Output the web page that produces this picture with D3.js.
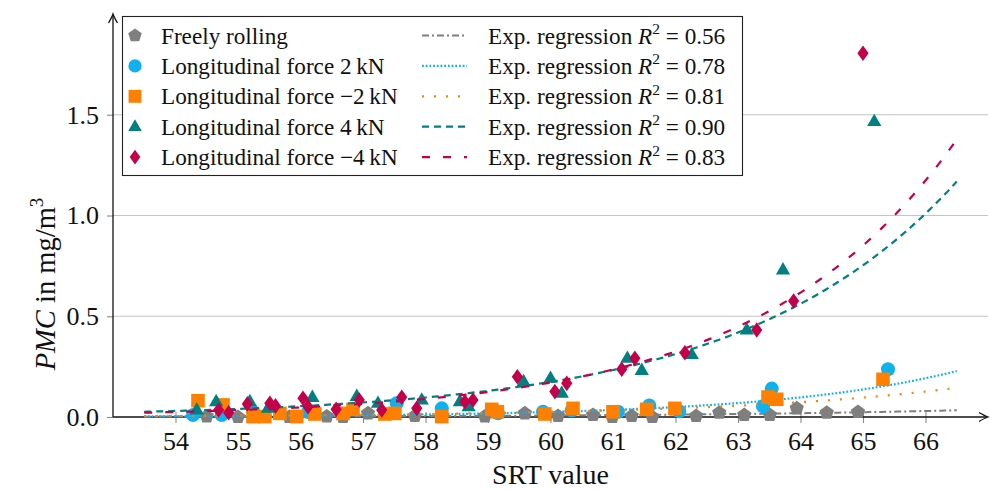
<!DOCTYPE html>
<html>
<head>
<meta charset="utf-8">
<script src="https://cdn.jsdelivr.net/npm/d3@7"></script>
<style>
  body { margin: 0; background: #fff; }
  svg { display: block; font-family: "Liberation Serif", "DejaVu Serif", serif; }
</style>
</head>
<body>
<div id="chart"></div>
<script>
const freeX = [54.50, 55.00, 55.82, 56.42, 56.68, 57.08, 57.83, 58.26, 58.95, 59.59, 60.12, 60.68, 60.99, 61.30, 61.63, 62.33, 62.70, 63.10, 63.51, 63.94, 64.42, 64.92]
const freeY = [0.003, 0.0, 0.0, 0.003, 0.0, 0.018, 0.005, 0.0, 0.003, 0.018, 0.005, 0.010, 0.0, 0.005, 0.0, 0.005, 0.021, 0.010, 0.010, 0.043, 0.021, 0.025]

const p2X = [54.28, 54.74, 55.24, 56.12, 57.54, 58.26, 59.16, 59.88, 60.34, 61.08, 61.58, 62.06, 63.40, 63.54, 65.40]
const p2Y = [0.010, 0.010, 0.026, 0.025, 0.068, 0.043, 0.018, 0.026, 0.032, 0.026, 0.057, 0.028, 0.053, 0.141, 0.237]

const m2X = [54.36, 54.76, 55.24, 55.43, 55.67, 55.94, 56.23, 56.68, 56.84, 57.35, 57.51, 58.26, 59.06, 59.15, 59.91, 60.36, 61.00, 61.54, 61.99, 63.48, 63.62, 65.32]
const m2Y = [0.081, 0.060, 0.002, 0.002, 0.018, 0.002, 0.015, 0.018, 0.038, 0.015, 0.018, 0.002, 0.038, 0.026, 0.015, 0.043, 0.026, 0.038, 0.043, 0.099, 0.088, 0.187]

const p4X = [54.34, 54.65, 55.19, 55.48, 56.19, 56.90, 57.24, 57.94, 58.55, 58.69, 59.57, 60.00, 60.18, 61.23, 61.46, 62.26, 63.14, 63.72, 65.18]
const p4Y = [0.035, 0.076, 0.076, 0.043, 0.097, 0.102, 0.068, 0.084, 0.076, 0.051, 0.175, 0.192, 0.118, 0.291, 0.231, 0.310, 0.432, 0.730, 1.466]

const m4X = [54.69, 54.85, 55.15, 55.51, 55.60, 56.04, 56.12, 56.57, 56.94, 57.30, 57.62, 57.86, 58.63, 58.76, 59.47, 60.07, 60.26, 61.14, 61.35, 62.15, 63.30, 63.89, 65.00]
const m4Y = [0.035, 0.021, 0.065, 0.068, 0.055, 0.093, 0.051, 0.038, 0.084, 0.035, 0.098, 0.043, 0.076, 0.084, 0.200, 0.126, 0.167, 0.237, 0.291, 0.319, 0.432, 0.576, 1.805]

// exponential regressions  y = a * exp(b * (x - 60))
const regA = [0.0077, 0.025, 0.025, 0.174, 0.171]
const regB = [0.225, 0.34, 0.27, 0.293, 0.321]
const regR2 = ['0.56', '0.78', '0.81', '0.90', '0.83']
const regFrom = 53.5
const regTo = 66.5

const seriesNames = ['Freely rolling', 'Longitudinal force 2\u2009kN', 'Longitudinal force \u22122\u2009kN', 'Longitudinal force 4\u2009kN', 'Longitudinal force \u22124\u2009kN']
const xTicks = [54, 55, 56, 57, 58, 59, 60, 61, 62, 63, 64, 65, 66]
const yTicks = [0, 0.5, 1.0, 1.5]

const width = 990
const height = 491

const colors = ['#7f7f7f', '#0fb1ef', '#ff8000', '#008080', '#c4004b']
const dashes = ['7 3 2 3', '1.8 1.9', '2 10', '7 5', '8 13']
const lineW = [2, 2.2, 2.2, 2.2, 2.2]

// marker shapes
const pentagon = {
  draw (ctx, r) {
    for (let i = 0; i < 5; i++) {
      const a = -Math.PI / 2 + i * 2 * Math.PI / 5
      const px = r * Math.cos(a)
      const py = r * Math.sin(a)
      if (i === 0) ctx.moveTo(px, py)
      else ctx.lineTo(px, py)
    }
    ctx.closePath()
  }
}
const circle = {
  draw (ctx, r) { ctx.moveTo(r, 0); ctx.arc(0, 0, r, 0, 2 * Math.PI) }
}
const square = {
  draw (ctx, r) { ctx.rect(-r, -r, 2 * r, 2 * r) }
}
const triangle = {
  draw (ctx, r) {
    ctx.moveTo(0, -r * 1.05)
    ctx.lineTo(r * 0.95, r * 0.6)
    ctx.lineTo(-r * 0.95, r * 0.6)
    ctx.closePath()
  }
}
const diamond = {
  draw (ctx, r) {
    ctx.moveTo(0, -r)
    ctx.lineTo(r * 0.72, 0)
    ctx.lineTo(0, r)
    ctx.lineTo(-r * 0.72, 0)
    ctx.closePath()
  }
}
const shapes = [pentagon, circle, square, triangle, diamond]
const shapeR = [7.5, 7, 6.8, 7.5, 7.8]

const xs = [freeX, p2X, m2X, p4X, m4X]
const ys = [freeY, p2Y, m2Y, p4Y, m4Y]

const svg = d3.select('#chart').append('svg')
  .attr('width', width)
  .attr('height', height)

const x = d3.scaleLinear().domain([53, 67]).range([113, 988])
const y = d3.scaleLinear().domain([0, 2]).range([417, 14])

function symbolPath (shape, r) {
  const p = d3.path()
  shape.draw(p, r)
  return p.toString()
}

// grid
svg.append('g')
  .selectAll('line')
  .data(yTicks.filter(d => d > 0))
  .join('line')
  .attr('x1', x(53)).attr('x2', x(67))
  .attr('y1', d => y(d)).attr('y2', d => y(d))
  .attr('stroke', '#c4c4c4')
  .attr('stroke-width', 1.1)

// x axis
const xAxis = svg.append('g')
  .attr('transform', 'translate(0,' + y(0) + ')')
  .call(d3.axisBottom(x).tickValues(xTicks).tickFormat(d3.format('d')).tickSize(6).tickPadding(9))
xAxis.select('.domain').remove()
xAxis.selectAll('.tick line').attr('y1', -5).attr('stroke', '#8a8a8a').attr('stroke-width', 1.1)
xAxis.selectAll('.tick text').attr('font-size', 26).attr('font-family', 'Liberation Serif').attr('fill', '#111')

// y axis
const yAxis = svg.append('g')
  .attr('transform', 'translate(' + x(53) + ',0)')
  .call(d3.axisLeft(y).tickValues(yTicks).tickFormat(d3.format('.1f')).tickSize(6).tickPadding(8))
yAxis.select('.domain').remove()
yAxis.selectAll('.tick line').attr('stroke', '#8a8a8a').attr('stroke-width', 1.1)
yAxis.selectAll('.tick text').attr('font-size', 26).attr('font-family', 'Liberation Serif').attr('fill', '#111')

// axis lines with arrows
svg.append('line')
  .attr('x1', x(53)).attr('x2', x(67) - 1)
  .attr('y1', y(0)).attr('y2', y(0))
  .attr('stroke', '#111').attr('stroke-width', 1.3)
svg.append('line')
  .attr('x1', x(53)).attr('x2', x(53))
  .attr('y1', y(0)).attr('y2', y(2) + 1)
  .attr('stroke', '#111').attr('stroke-width', 1.3)
svg.append('path')
  .attr('d', 'M-9,-4.5 Q-3,-1 0,0 Q-3,1 -9,4.5')
  .attr('transform', 'translate(' + x(67) + ',' + y(0) + ')')
  .attr('fill', 'none').attr('stroke', '#111').attr('stroke-width', 1.3)
svg.append('path')
  .attr('d', 'M-9,-4.5 Q-3,-1 0,0 Q-3,1 -9,4.5')
  .attr('transform', 'translate(' + x(53) + ',' + y(2) + ') rotate(-90)')
  .attr('fill', 'none').attr('stroke', '#111').attr('stroke-width', 1.3)

// axis labels
svg.append('text')
  .attr('x', (x(53) + x(67)) / 2)
  .attr('y', 484)
  .attr('text-anchor', 'middle')
  .attr('font-size', 28)
  .attr('fill', '#111')
  .text('SRT value')

const yl = svg.append('text')
  .attr('transform', 'translate(55,284) rotate(-90)')
  .attr('text-anchor', 'middle')
  .attr('font-size', 28.5)
  .attr('fill', '#111')
yl.append('tspan').attr('font-style', 'italic').text('PMC')
yl.append('tspan').text(' in mg/m')
yl.append('tspan').attr('font-size', 19).attr('dy', -12).text('3')

// data + regression, drawn series by series like the original plot order
const plot = svg.append('g')
const line = d3.line().x(d => x(d[0])).y(d => y(d[1]))
const gridX = d3.range(regFrom, regTo + 0.001, 0.05)

xs.forEach((serX, i) => {
  const pts = serX.map((v, j) => [v, ys[i][j]])
  plot.append('g')
    .selectAll('path')
    .data(pts)
    .join('path')
    .attr('d', symbolPath(shapes[i], shapeR[i]))
    .attr('transform', d => 'translate(' + x(d[0]) + ',' + y(d[1]) + ')')
    .attr('fill', colors[i])

  const curve = gridX.map(v => [v, regA[i] * Math.exp(regB[i] * (v - 60))])
  plot.append('path')
    .datum(curve)
    .attr('d', line)
    .attr('fill', 'none')
    .attr('stroke', colors[i])
    .attr('stroke-width', lineW[i])
    .attr('stroke-dasharray', dashes[i])
})

// legend
const legend = svg.append('g')
legend.append('rect')
  .attr('x', 122.5).attr('y', 16.5)
  .attr('width', 620).attr('height', 159)
  .attr('fill', '#fff')
  .attr('stroke', '#222')
  .attr('stroke-width', 1.1)

seriesNames.forEach((name, i) => {
  const ry = 35.5 + i * 30.4
  legend.append('path')
    .attr('d', symbolPath(shapes[i], shapeR[i] * 0.95))
    .attr('transform', 'translate(135,' + ry + ')')
    .attr('fill', colors[i])
  legend.append('text')
    .attr('x', 161).attr('y', ry + 8)
    .attr('font-size', 23.2)
    .attr('fill', '#111')
    .text(name)

  legend.append('line')
    .attr('x1', 422).attr('x2', 467)
    .attr('y1', ry).attr('y2', ry)
    .attr('stroke', colors[i])
    .attr('stroke-width', lineW[i])
    .attr('stroke-dasharray', dashes[i])
  const t = legend.append('text')
    .attr('x', 488).attr('y', ry + 8)
    .attr('font-size', 23.2)
    .attr('fill', '#111')
  t.append('tspan').text('Exp. regression ')
  t.append('tspan').attr('font-style', 'italic').text('R')
  t.append('tspan').attr('font-size', 15.5).attr('dy', -9.5).text('2')
  t.append('tspan').attr('dy', 9.5).text(' = ' + regR2[i])
})
</script>
</body>
</html>
